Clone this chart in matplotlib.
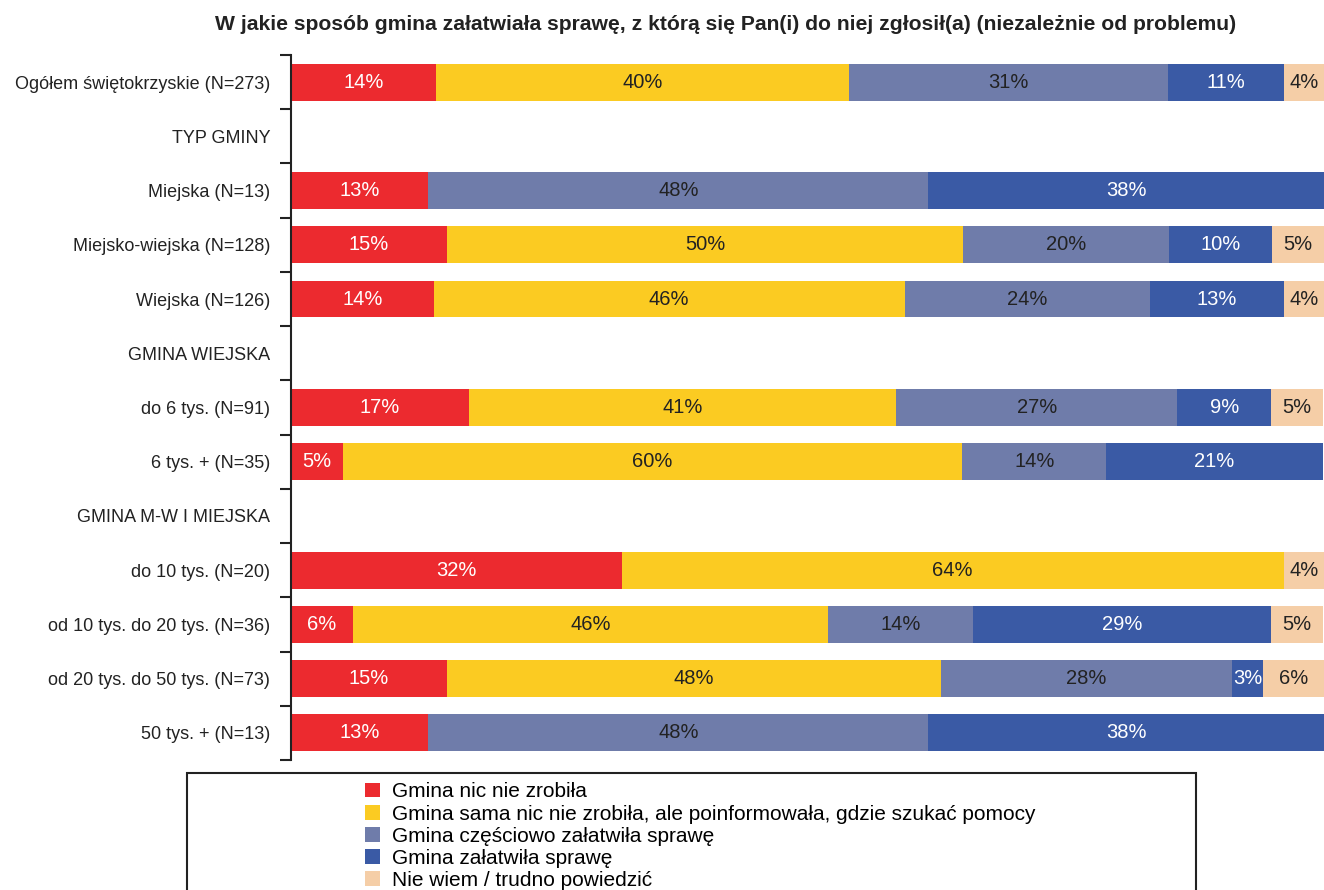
import matplotlib
matplotlib.use("Agg")
import matplotlib.pyplot as plt
import numpy as np
from matplotlib.patches import Patch, Rectangle

plt.rcParams["font.family"] = ["Liberation Sans", "DejaVu Sans"]

categories = [
    "Ogółem świętokrzyskie (N=273)",
    "TYP GMINY",
    "Miejska (N=13)",
    "Miejsko-wiejska (N=128)",
    "Wiejska (N=126)",
    "GMINA WIEJSKA",
    "do 6 tys. (N=91)",
    "6 tys. + (N=35)",
    "GMINA M-W I MIEJSKA",
    "do 10 tys. (N=20)",
    "od 10 tys. do 20 tys. (N=36)",
    "od 20 tys. do 50 tys. (N=73)",
    "50 tys. + (N=13)",
]

series_names = [
    "Gmina nic nie zrobiła",
    "Gmina sama nic nie zrobiła, ale poinformowała, gdzie szukać pomocy",
    "Gmina częściowo załatwiła sprawę",
    "Gmina załatwiła sprawę",
    "Nie wiem / trudno powiedzić",
]

# percentages per series (rows follow categories; header rows are 0)
nic = [14.0, 0, 13.3, 15.1, 13.8, 0, 17.2, 5.0, 0, 32.0, 6.0, 15.1, 13.3]
poinformowala = [40.0, 0, 0, 50.0, 45.6, 0, 41.4, 60.0, 0, 64.1, 46.0, 47.8, 0]
czesciowo = [30.9, 0, 48.4, 19.9, 23.8, 0, 27.2, 13.9, 0, 0, 14.0, 28.2, 48.4]
zalatwila = [11.2, 0, 38.3, 10.0, 12.9, 0, 9.1, 21.0, 0, 0, 28.9, 3.0, 38.3]
nie_wiem = [3.9, 0, 0, 5.0, 3.9, 0, 5.0, 0, 0, 3.9, 5.0, 5.9, 0]

series = [nic, poinformowala, czesciowo, zalatwila, nie_wiem]
colors = ["#EC2A2F", "#FBCB22", "#6F7CAA", "#3A5AA5", "#F5CEA7"]
text_colors = ["white", "#222222", "#222222", "white", "#222222"]

fig = plt.figure(figsize=(13.24, 8.9), dpi=100)
W, H = 1324, 890
ax = fig.add_axes([291 / W, 1 - 760 / H, 1 - 291 / W, (760 - 55) / H])

y = np.arange(len(categories))
left = np.zeros(len(categories))
for vals, col, tcol in zip(series, colors, text_colors):
    vals = np.array(vals)
    ax.barh(y, vals, left=left, height=0.68, color=col, edgecolor="none")
    for yi, (v, l) in enumerate(zip(vals, left)):
        if v > 0:
            ax.text(l + v / 2, yi, f"{round(v):.0f}%", ha="center", va="center",
                    color=tcol, fontsize=14.5)
    left += vals

ax.set_xlim(0, 100)
ax.set_ylim(len(categories) - 0.5, -0.5)
ax.set_yticks(y)
ax.set_yticklabels(categories, fontsize=13, color="#222222")
ax.set_yticks(np.arange(len(categories) + 1) - 0.5, minor=True)
ax.tick_params(axis="y", which="major", length=0, pad=15)
ax.tick_params(axis="y", which="minor", length=8, width=1.5, color="#222222")
ax.set_xticks([])
for s in ["top", "right", "bottom"]:
    ax.spines[s].set_visible(False)
ax.spines["left"].set_linewidth(1.5)
ax.spines["left"].set_color("#222222")

fig.text(726 / W, 1 - 24 / H,
         "W jakie sposób gmina załatwiała sprawę, z którą się Pan(i) do niej zgłosił(a) (niezależnie od problemu)",
         ha="center", va="center", fontsize=15.2, fontweight="bold", color="#222222")

# legend box, cut off at the bottom edge
fig.patches.append(Rectangle((187 / W, -0.05), (1196 - 187) / W, 0.05 + (890 - 773) / H,
                             transform=fig.transFigure, fill=False,
                             edgecolor="#222222", linewidth=1.5))
handles = [Patch(facecolor=c, edgecolor="none") for c in colors]
fig.legend(handles, series_names, loc="upper left",
           bbox_to_anchor=(355 / W, 1 - 772 / H), frameon=False,
           fontsize=15, handlelength=0.7, handleheight=0.7,
           labelspacing=0.15, handletextpad=0.6, borderpad=0)

fig.savefig("out.png", dpi=100)
